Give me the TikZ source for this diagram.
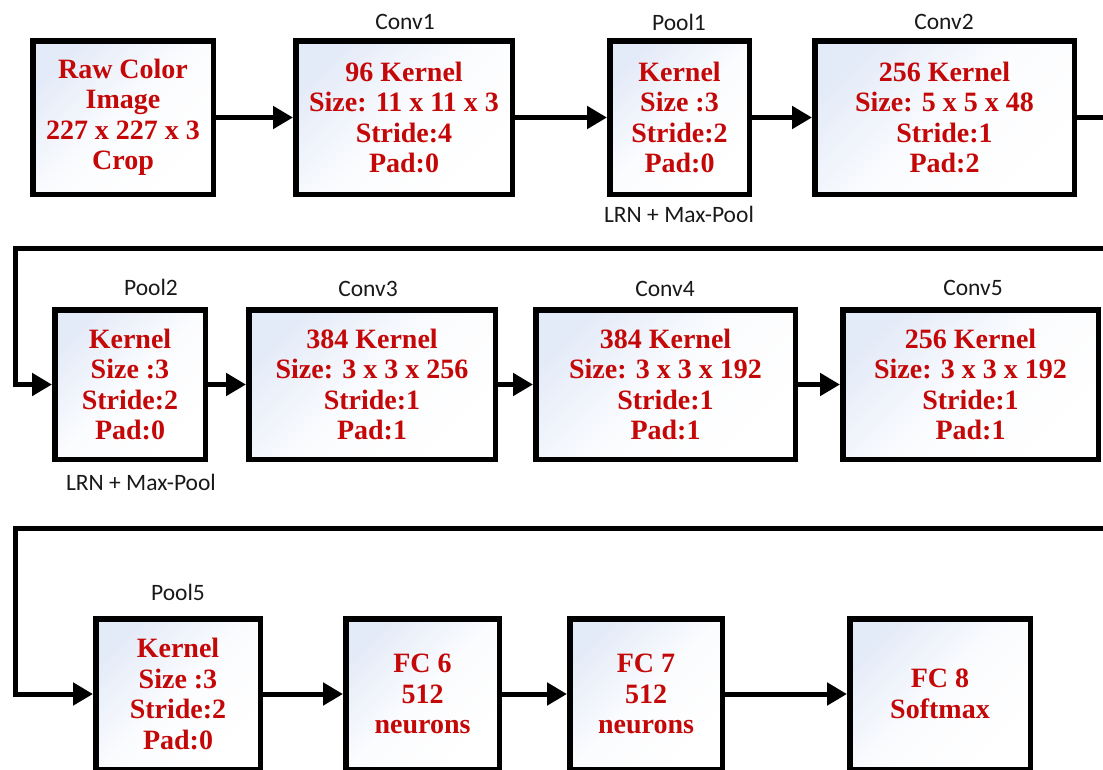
\documentclass[tikz,border=0pt]{standalone}
\usepackage{fontspec}
\setmainfont{Liberation Serif}
\newfontfamily\lblfont{Carlito}
\usetikzlibrary{arrows.meta}
\definecolor{txtred}{RGB}{196,8,8}
\definecolor{boxtop}{RGB}{228,235,248}
\definecolor{lblgray}{RGB}{25,25,25}
\tikzset{
  layer/.style={draw=black, line width=5.5pt, top color=boxtop, bottom color=white, middle color=white!85!boxtop, shading angle=45,
    text=txtred, font=\bfseries\fontsize{28}{30.5}\selectfont, align=center, inner sep=0pt},
  lbl/.style={font=\lblfont\fontsize{23.5}{26}\selectfont, text=lblgray, anchor=base, inner sep=0pt},
  flow/.style={line width=5pt, -{Triangle[length=20pt,width=22pt]}},
  wire/.style={line width=5pt},
}
\begin{document}
\begin{tikzpicture}[x=1pt,y=-1pt]
\useasboundingbox (0,0) rectangle (1103,769);
\clip (0,0) rectangle (1103,769);
% row 1
\node[layer, minimum width=180.5pt, minimum height=153.5pt] (raw) at (123,117.5) {Raw Color\\Image\\227 x 227 x 3\\Crop};
\node[layer, minimum width=216.5pt, minimum height=153.5pt] (conv1) at (404,117.5) {96 Kernel\\Size: 11 x 11 x 3\\Stride:4\\Pad:0};
\node[layer, minimum width=139.5pt, minimum height=153.5pt] (pool1) at (679.5,117.5) {Kernel\\Size :3\\Stride:2\\Pad:0};
\node[layer, minimum width=259.5pt, minimum height=153.5pt] (conv2) at (944.5,117.5) {256 Kernel\\Size: 5 x 5 x 48\\Stride:1\\Pad:2};
% row 2
\node[layer, minimum width=150.5pt, minimum height=149.5pt] (pool2) at (130,384.5) {Kernel\\Size :3\\Stride:2\\Pad:0};
\node[layer, minimum width=246.5pt, minimum height=149.5pt] (conv3) at (372,384.5) {384 Kernel\\Size: 3 x 3 x 256\\Stride:1\\Pad:1};
\node[layer, minimum width=259.5pt, minimum height=149.5pt] (conv4) at (665.5,384.5) {384 Kernel\\Size: 3 x 3 x 192\\Stride:1\\Pad:1};
\node[layer, minimum width=255.5pt, minimum height=149.5pt] (conv5) at (970.5,384.5) {256 Kernel\\Size: 3 x 3 x 192\\Stride:1\\Pad:1};
% row 3
\node[layer, minimum width=164.5pt, minimum height=150.5pt] (pool5) at (178,694) {Kernel\\Size :3\\Stride:2\\Pad:0};
\node[layer, minimum width=153.5pt, minimum height=150.5pt] (fc6) at (422.5,694) {FC 6\\512\\neurons};
\node[layer, minimum width=152.5pt, minimum height=150.5pt] (fc7) at (646,694) {FC 7\\512\\neurons};
\node[layer, minimum width=180.5pt, minimum height=150.5pt] (fc8) at (940,694) {FC 8\\Softmax};
% labels
\node[lbl] (lconv1) at (405,29) {Conv1};
\node[lbl] (lpool1) at (679,30) {Pool1};
\node[lbl] (lconv2) at (944,29) {Conv2};
\node[lbl] (llrn1) at (679,222) {LRN + Max-Pool};
\node[lbl] (lpool2) at (151,295) {Pool2};
\node[lbl] (llrn2) at (141,490) {LRN + Max-Pool};
\node[lbl] (lconv3) at (368,296) {Conv3};
\node[lbl] (lconv4) at (665,296) {Conv4};
\node[lbl] (lconv5) at (973,295) {Conv5};
\node[lbl] (lpool5) at (178,600) {Pool5};
% connectors row 1
\draw[flow] (raw.east) -- (conv1.west);
\draw[flow] (conv1.east) -- (pool1.west);
\draw[flow] (pool1.east) -- (conv2.west);
\coordinate (out1) at (1112,117.5);
\draw[wire] (conv2.east) -- (out1);
% row 2
\coordinate (in2) at (1112,248);
\coordinate (turn2) at (15.5,248);
\draw[flow] (in2) -- (turn2) |- (pool2.west);
\draw[flow] (pool2.east) -- (conv3.west);
\draw[flow] (conv3.east) -- (conv4.west);
\draw[flow] (conv4.east) -- (conv5.west);
% row 3
\coordinate (in3) at (1112,528);
\coordinate (turn3) at (15.5,528);
\draw[flow] (in3) -- (turn3) |- (pool5.west);
\draw[flow] (pool5.east) -- (fc6.west);
\draw[flow] (fc6.east) -- (fc7.west);
\draw[flow] (fc7.east) -- (fc8.west);
\end{tikzpicture}
\end{document}
